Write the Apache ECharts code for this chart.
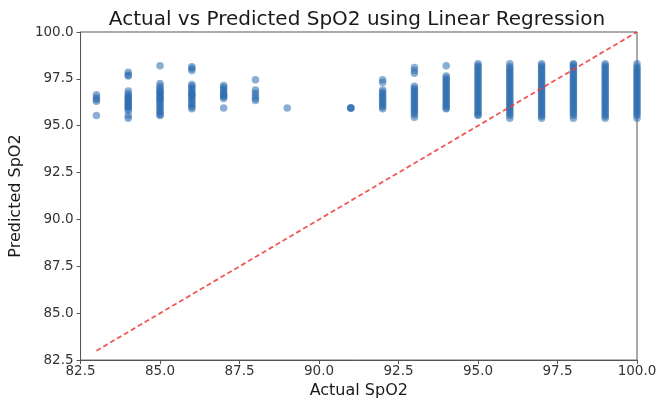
<!DOCTYPE html>
<html>
<head>
<meta charset="utf-8">
<script src="https://cdn.jsdelivr.net/npm/echarts@6/dist/echarts.min.js"></script>
<style>
html,body{margin:0;padding:0;background:#fff;}
#chart{width:662px;height:404px;}
</style>
</head>
<body>
<div id="chart"></div>
<script>
// Predicted SpO2 values grouped by actual SpO2
const pred83 = [96.65, 96.5, 96.4, 96.3, 95.55];
const pred84 = [97.85, 97.7, 97.65, 96.85, 96.7, 96.6, 96.5, 96.45, 96.35, 96.3, 96.2, 96.1, 96.05, 96.0, 95.9, 95.8, 95.55, 95.4];
const pred85 = [98.2, 97.25, 97.1, 97.0, 96.9, 96.8, 96.75, 96.7, 96.6, 96.5, 96.45, 96.4, 96.3, 96.2, 96.1, 96.0, 95.9, 95.8, 95.7, 95.6, 95.55];
const pred86 = [98.15, 98.05, 97.95, 97.2, 97.1, 97.0, 96.9, 96.8, 96.7, 96.65, 96.6, 96.5, 96.4, 96.3, 96.2, 96.1, 96.0, 95.9];
const pred87 = [97.15, 97.05, 96.95, 96.85, 96.75, 96.65, 96.6, 96.55, 96.45, 95.95];
const pred88 = [97.45, 96.9, 96.75, 96.6, 96.45, 96.35];
const pred89 = [95.95];
const pred91 = [95.95, 95.95, 95.95];
const pred92 = [97.45, 97.3, 96.9, 96.8, 96.7, 96.6, 96.5, 96.4, 96.3, 96.2, 96.1, 96.0, 95.9];
const pred93 = [98.1, 97.95, 97.8, 97.1, 97.0, 96.9, 96.8, 96.7, 96.6, 96.5, 96.4, 96.3, 96.2, 96.1, 96.0, 95.9, 95.8, 95.7, 95.6, 95.45];
const pred94 = [98.2, 97.65, 97.55, 97.45, 97.35, 97.25, 97.15, 97.05, 96.95, 96.85, 96.75, 96.65, 96.55, 96.45, 96.35, 96.25, 96.15, 96.05, 95.95, 95.9];
const pred95 = [98.3, 98.2, 98.1, 98.0, 97.9, 97.8, 97.7, 97.6, 97.5, 97.4, 97.3, 97.2, 97.1, 97.0, 96.9, 96.8, 96.7, 96.6, 96.5, 96.4, 96.3, 96.2, 96.1, 96.0, 95.9, 95.8, 95.7, 95.6, 95.55];
const pred96 = [98.3, 98.15, 98.05, 97.95, 97.85, 97.75, 97.65, 97.55, 97.45, 97.35, 97.25, 97.15, 97.05, 96.95, 96.85, 96.75, 96.65, 96.55, 96.45, 96.35, 96.25, 96.15, 96.05, 95.95, 95.85, 95.75, 95.65, 95.55, 95.4];
const pred97 = [98.3, 98.2, 98.1, 98.0, 97.9, 97.8, 97.7, 97.6, 97.5, 97.4, 97.3, 97.2, 97.1, 97.0, 96.9, 96.8, 96.7, 96.6, 96.5, 96.4, 96.3, 96.2, 96.1, 96.0, 95.9, 95.8, 95.7, 95.6, 95.5, 95.4];
const pred98 = [98.3, 98.25, 98.15, 98.05, 97.95, 97.85, 97.75, 97.65, 97.55, 97.45, 97.35, 97.25, 97.15, 97.05, 96.95, 96.85, 96.75, 96.65, 96.55, 96.45, 96.35, 96.25, 96.15, 96.05, 95.95, 95.85, 95.75, 95.65, 95.55, 95.4];
const pred99 = [98.3, 98.2, 98.1, 98.0, 97.9, 97.8, 97.7, 97.6, 97.5, 97.4, 97.3, 97.2, 97.1, 97.0, 96.9, 96.8, 96.7, 96.6, 96.5, 96.4, 96.3, 96.2, 96.1, 96.0, 95.9, 95.8, 95.7, 95.6, 95.5, 95.4];
const pred100 = [98.3, 98.15, 98.05, 97.95, 97.85, 97.75, 97.65, 97.55, 97.45, 97.35, 97.25, 97.15, 97.05, 96.95, 96.85, 96.75, 96.65, 96.55, 96.45, 96.35, 96.25, 96.15, 96.05, 95.95, 95.85, 95.75, 95.65, 95.55, 95.4];

const actualLevels = [83, 84, 85, 86, 87, 88, 89, 91, 92, 93, 94, 95, 96, 97, 98, 99, 100];
const predictedGroups = [pred83, pred84, pred85, pred86, pred87, pred88, pred89, pred91, pred92, pred93, pred94, pred95, pred96, pred97, pred98, pred99, pred100];

// Ideal line endpoints (y = x)
const idealLine = [[83, 83], [100, 100]];

const axisTicks = [82.5, 85.0, 87.5, 90.0, 92.5, 95.0, 97.5, 100.0];

const points = [];
actualLevels.forEach((a, i) => {
  predictedGroups[i].forEach(p => points.push([a, p]));
});

const font = 'DejaVu Sans';
const chart = echarts.init(document.getElementById('chart'), null, {renderer: 'canvas'});
chart.setOption({
  animation: false,
  backgroundColor: '#ffffff',
  title: {
    text: 'Actual vs Predicted SpO2 using Linear Regression',
    left: 352, top: 5, textAlign: 'center',
    textStyle: {fontFamily: font, fontSize: 20, fontWeight: 'normal', color: '#1a1a1a'}
  },
  grid: {
    left: 80, right: 25, top: 32, bottom: 41,
    show: true, borderColor: '#555', borderWidth: 1, backgroundColor: 'transparent'
  },
  xAxis: {
    type: 'value', min: axisTicks[0], max: axisTicks[axisTicks.length - 1], interval: 2.5,
    name: 'Actual SpO2', nameLocation: 'middle', nameGap: 21,
    nameTextStyle: {fontFamily: font, fontSize: 16, color: '#1a1a1a'},
    axisLine: {show: true, lineStyle: {color: '#555', width: 1}},
    axisTick: {show: true, length: 4, lineStyle: {color: '#555'}},
    axisLabel: {fontFamily: font, fontSize: 13.5, color: '#333', margin: 4,
      formatter: v => v.toFixed(1)},
    splitLine: {show: false}
  },
  yAxis: {
    type: 'value', min: axisTicks[0], max: axisTicks[axisTicks.length - 1], interval: 2.5,
    name: 'Predicted SpO2', nameLocation: 'middle', nameGap: 51, nameRotate: 90,
    nameTextStyle: {fontFamily: font, fontSize: 16, color: '#1a1a1a'},
    axisLine: {show: true, lineStyle: {color: '#555', width: 1}},
    axisTick: {show: true, length: 4, lineStyle: {color: '#555'}},
    axisLabel: {fontFamily: font, fontSize: 13.5, color: '#333', margin: 7,
      formatter: v => v.toFixed(1)},
    splitLine: {show: false}
  },
  series: [
    {
      type: 'scatter',
      data: points,
      symbolSize: 7.5,
      itemStyle: {color: '#2b6cae', opacity: 0.55},
      clip: true
    },
    {
      type: 'line',
      data: idealLine,
      symbol: 'none',
      lineStyle: {color: '#f03a3a', width: 1.8, type: [5, 3], opacity: 0.85},
      z: 3
    }
  ]
});
</script>
</body>
</html>
